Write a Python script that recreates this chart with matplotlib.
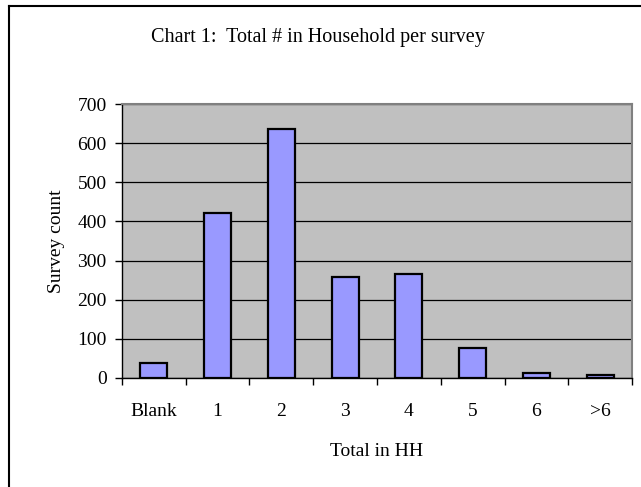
import matplotlib
matplotlib.use("Agg")
import matplotlib.pyplot as plt
from matplotlib.lines import Line2D

# Household size distribution
categories = ["Blank", "1", "2", "3", "4", "5", "6", ">6"]
counts = [38, 423, 638, 257, 265, 76, 11, 6]

plt.rcParams['font.family'] = ['Liberation Serif', 'DejaVu Serif']
fs = 14

fig = plt.figure(figsize=(6.41, 4.87), dpi=100)
ax = fig.add_axes([0.1903, 0.2244, 0.7957, 0.5614])

x = range(len(categories))
ax.bar(x, counts, width=0.42, color="#9999FF", edgecolor="black", linewidth=1.6, zorder=3)

ax.set_facecolor("#C0C0C0")
ax.set_ylim(0, 700)
ax.set_xlim(-0.5, len(categories) - 0.5)
ax.set_yticks(range(0, 701, 100))
ax.yaxis.grid(True, color="black", linewidth=0.9, zorder=1)

# category labels between boundary ticks
ax.set_xticks([i - 0.5 for i in range(len(categories) + 1)])
ax.set_xticklabels([])
ax.set_xticks(list(x), minor=True)
ax.set_xticklabels(categories, minor=True, fontsize=fs)
ax.tick_params(axis="x", which="minor", length=0, pad=18)
ax.tick_params(axis="x", which="major", length=5, width=1, direction="out")
ax.tick_params(axis="y", length=5, width=1, direction="out", labelsize=fs, pad=6)

for side in ["top", "right"]:
    ax.spines[side].set_color("#808080")
    ax.spines[side].set_linewidth(1.5)
ax.spines["left"].set_linewidth(1)
ax.spines["bottom"].set_linewidth(1)

ax.set_ylabel("Survey count", fontsize=fs, labelpad=9)
ax.set_xlabel("Total in HH", fontsize=fs, labelpad=17)

fig.text(0.496, 0.924, "Chart 1:  Total # in Household per survey",
         ha="center", va="center", fontsize=14.5)

# chart frame
fig.add_artist(Line2D([0.0148, 0.0148], [0, 0.988], color="black", linewidth=1.5))
fig.add_artist(Line2D([0.0148, 1.0], [0.988, 0.988], color="black", linewidth=1.5))

fig.savefig("out.png", dpi=100)
